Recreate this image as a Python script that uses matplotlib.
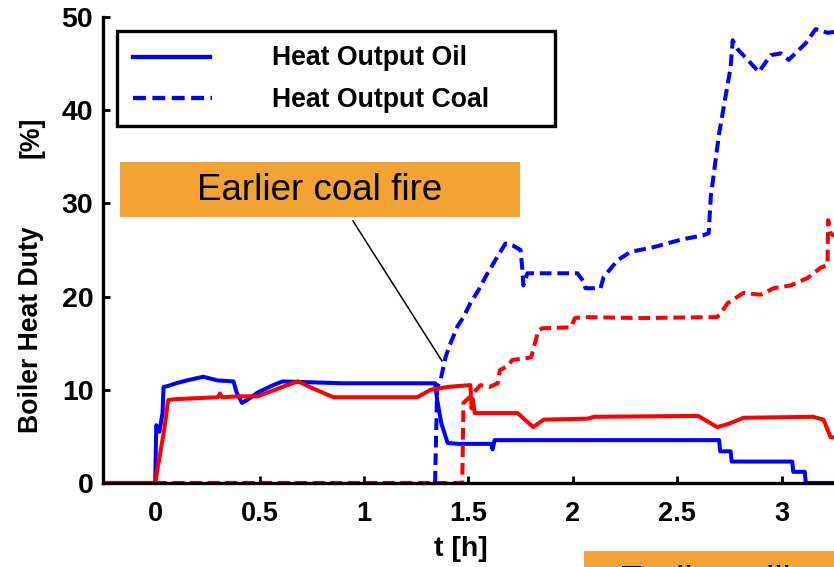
import matplotlib
matplotlib.use("Agg")
import matplotlib.pyplot as plt
from matplotlib.lines import Line2D
from matplotlib.patches import Rectangle

plt.rcParams["font.family"] = ["Liberation Sans", "DejaVu Sans"]

# Boiler heat duty [%] over time [h]
# Blue: oil / coal heat output, red: the same quantities for the second run
oil_blue_t = [-0.25, 0.0, 0.005, 0.02, 0.035, 0.04, 0.06, 0.1, 0.15, 0.23, 0.3, 0.375,
              0.39, 0.415, 0.44, 0.49, 0.565, 0.61, 0.75, 0.9, 1.0, 1.1, 1.2, 1.34,
              1.35, 1.37, 1.40, 1.45, 1.5, 1.61, 1.615, 1.625, 1.7, 2.0, 2.5, 2.70,
              2.705, 2.755, 2.76, 2.85, 3.05, 3.055, 3.11, 3.115, 3.25]
oil_blue_y = [0, 0, 6.2, 5.5, 7.5, 10.3, 10.4, 10.7, 11.0, 11.4, 11.0, 10.9,
              9.7, 8.6, 8.9, 9.7, 10.5, 10.9, 10.8, 10.7, 10.7, 10.7, 10.7, 10.7,
              8.9, 6.4, 4.3, 4.2, 4.2, 4.2, 3.6, 4.6, 4.6, 4.6, 4.6, 4.6,
              3.4, 3.4, 2.3, 2.3, 2.3, 1.2, 1.2, 0, 0]

coal_blue_t = [0.0, 1.34, 1.35, 1.366, 1.39, 1.414, 1.447, 1.476, 1.509, 1.548, 1.591,
               1.639, 1.677, 1.711, 1.749, 1.758, 1.763, 1.782, 2.022, 2.051, 2.06,
               2.132, 2.147, 2.214, 2.276, 2.386, 2.516, 2.626, 2.65, 2.66, 2.70,
               2.755, 2.765, 2.79, 2.837, 2.89, 2.947, 2.995, 3.033, 3.115, 3.162,
               3.22, 3.25]
coal_blue_y = [0, 0, 10.3, 11.0, 13.5, 15.0, 16.8, 17.8, 19.3, 20.7, 22.5,
               24.3, 25.7, 25.5, 25.0, 22.9, 21.2, 22.5, 22.5, 21.6, 20.9,
               20.9, 22.1, 23.9, 24.8, 25.3, 26.1, 26.6, 26.8, 30.7, 37.5,
               44.6, 47.5, 46.5, 45.4, 44.1, 45.9, 46.1, 45.4, 47.2, 48.7,
               48.3, 48.4]

oil_red_t = [-0.25, 0.0, 0.03, 0.045, 0.062, 0.1, 0.2, 0.3, 0.31, 0.32, 0.4, 0.49,
             0.55, 0.62, 0.685, 0.75, 0.853, 1.0, 1.1, 1.255, 1.318, 1.40, 1.447,
             1.509, 1.515, 1.52, 1.53, 1.735, 1.81, 1.86, 2.07, 2.10, 2.60, 2.69,
             2.74, 2.817, 3.15, 3.20, 3.234, 3.25]
oil_red_y = [0, 0, 4.0, 6.0, 8.9, 9.0, 9.1, 9.2, 9.6, 9.2, 9.3, 9.3,
             9.8, 10.4, 10.9, 10.2, 9.2, 9.2, 9.2, 9.2, 10.0, 10.3, 10.4,
             10.5, 8.0, 9.0, 7.5, 7.5, 6.0, 6.8, 6.9, 7.1, 7.2, 6.0,
             6.3, 7.0, 7.1, 6.8, 4.9, 4.9]

coal_red_t = [0.0, 1.47, 1.476, 1.51, 1.557, 1.60, 1.64, 1.65, 1.69, 1.71, 1.78,
              1.80, 1.835, 1.855, 1.99, 2.01, 2.05, 2.32, 2.69, 2.707, 2.741,
              2.817, 2.899, 2.961, 3.043, 3.124, 3.186, 3.219, 3.222, 3.234, 3.25]
coal_red_y = [0, 0, 8.6, 9.3, 10.5, 10.3, 10.7, 12.1, 12.6, 13.2, 13.4,
              13.5, 16.4, 16.6, 16.7, 17.7, 17.8, 17.7, 17.8, 18.2, 19.3,
              20.4, 20.2, 20.9, 21.2, 22.0, 23.1, 23.4, 28.2, 26.8, 26.5]

x_ticks = [0, 0.5, 1, 1.5, 2, 2.5, 3]
x_tick_labels = ["0", "0.5", "1", "1.5", "2", "2.5", "3"]
y_ticks = [0, 10, 20, 30, 40, 50]
legend_labels = ["Heat Output Oil", "Heat Output Coal"]

W, H = 834, 567
fig = plt.figure(figsize=(W / 100, H / 100), dpi=100)


def fx(x):
    return x / W


def fy(y):
    return 1 - y / H


ax = fig.add_axes([fx(103), fy(483), fx(834) - fx(103), fy(17) - fy(483)])

lw = 2.9
dash = (2.9, 1.45)
ax.plot(oil_blue_t, oil_blue_y, color="#0000ff", lw=lw, solid_joinstyle="round")
ax.plot(coal_blue_t, coal_blue_y, color="#0000ff", lw=lw, dashes=dash)
ax.plot(oil_red_t, oil_red_y, color="#ff0000", lw=lw, solid_joinstyle="round")
ax.plot(coal_red_t, coal_red_y, color="#ff0000", lw=lw, dashes=dash)

ax.set_xlim(-0.25, 3.25)
ax.set_ylim(0, 50)
ax.set_xticks(x_ticks)
ax.set_xticklabels(x_tick_labels)
ax.set_yticks(y_ticks)
for s in ("top", "right"):
    ax.spines[s].set_visible(False)
for s in ("left", "bottom"):
    ax.spines[s].set_linewidth(2.4)
ax.tick_params(axis="both", direction="in", length=5, width=2)
ax.tick_params(axis="x", labelsize=19.5, pad=13)
ax.tick_params(axis="y", labelsize=20.5, pad=7)
for lab in ax.get_xticklabels() + ax.get_yticklabels():
    lab.set_fontweight("bold")

# axis titles
fig.text(fx(461), fy(549), "t [h]", fontsize=20.5, fontweight="bold",
         ha="center", va="center")
fig.text(fx(31), fy(330), "Boiler Heat Duty", fontsize=19.2, fontweight="bold",
         rotation=90, ha="center", va="center")
fig.text(fx(31), fy(137), "[%]", fontsize=19.2, fontweight="bold",
         rotation=90, ha="center", va="center")

# legend box
fig.patches.append(Rectangle((fx(117), fy(126)), fx(555) - fx(117), fy(31) - fy(126),
                             transform=fig.transFigure, facecolor="white",
                             edgecolor="black", lw=2.4, zorder=5))
fig.add_artist(Line2D([fx(133), fx(210)], [fy(57), fy(57)], color="#0000ff",
                      lw=3.1, transform=fig.transFigure, zorder=6))
fig.add_artist(Line2D([fx(133), fx(212)], [fy(98), fy(98)], color="#0000ff",
                      lw=3.1, dashes=(3.0, 1.5), transform=fig.transFigure, zorder=6))
fig.text(fx(272), fy(58), legend_labels[0], fontsize=19.2, fontweight="bold",
         ha="left", va="center", zorder=7)
fig.text(fx(272), fy(100), legend_labels[1], fontsize=19.2, fontweight="bold",
         ha="left", va="center", zorder=7)

# callout boxes
orange = "#f3a234"
fig.patches.append(Rectangle((fx(120), fy(217)), fx(520) - fx(120), fy(162) - fy(217),
                             transform=fig.transFigure, facecolor=orange,
                             edgecolor="none", zorder=5))
fig.text(fx(320), fy(190), "Earlier coal fire", fontsize=26.5, ha="center",
         va="center", zorder=7)
fig.add_artist(Line2D([fx(353), fx(442)], [fy(221), fy(361)], color="black",
                      lw=1.1, transform=fig.transFigure, zorder=6))

fig.patches.append(Rectangle((fx(584), fy(606)), fx(834) - fx(584), fy(551) - fy(606),
                             transform=fig.transFigure, facecolor=orange,
                             edgecolor="none", zorder=5))
fig.text(fx(705), fy(582), "Earlier mill", fontsize=26.5, ha="center",
         va="center", zorder=7)

fig.savefig("out.png", dpi=100)
